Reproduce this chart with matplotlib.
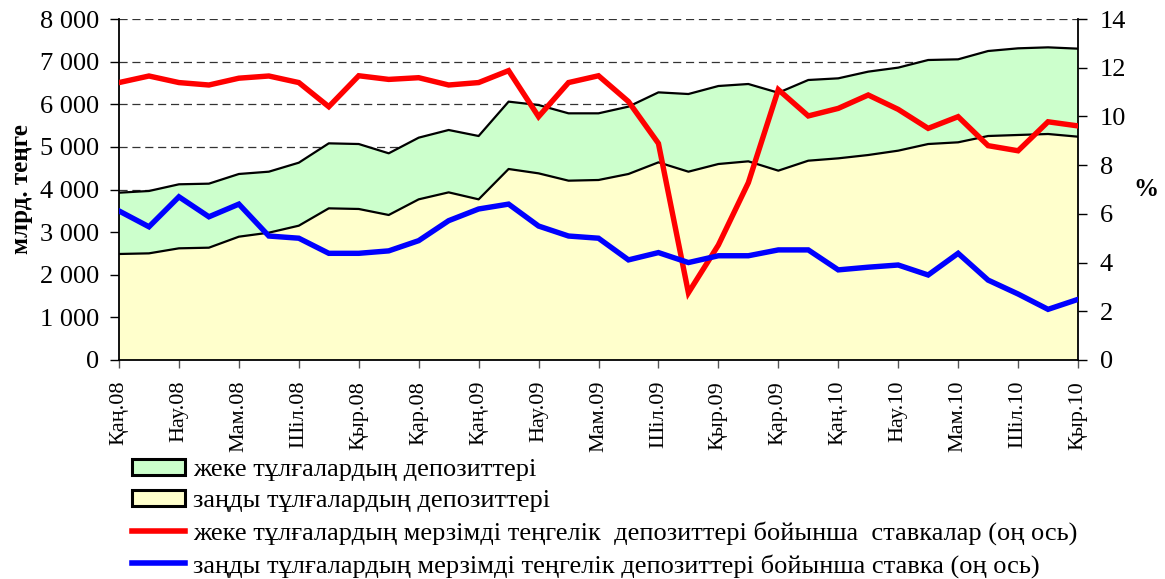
import matplotlib
matplotlib.use("Agg")
import matplotlib.pyplot as plt
from matplotlib.patches import Patch
from matplotlib.lines import Line2D
import numpy as np

plt.rcParams['font.family'] = ['Liberation Serif', 'DejaVu Serif']

month_labels = ['Қаң.08', 'Нау.08', 'Мам.08', 'Шіл.08', 'Қыр.08', 'Қар.08',
                'Қаң.09', 'Нау.09', 'Мам.09', 'Шіл.09', 'Қыр.09', 'Қар.09',
                'Қаң.10', 'Нау.10', 'Мам.10', 'Шіл.10', 'Қыр.10']

legal_deposits = [2487, 2502, 2620, 2635, 2893, 2987, 3151, 3558, 3543, 3402,
                  3769, 3933, 3769, 4481, 4379, 4207, 4223, 4364, 4637, 4418,
                  4598, 4661, 4442, 4676, 4731, 4809, 4911, 5067, 5107, 5255,
                  5279, 5302, 5239]
individual_deposits = [1438, 1463, 1502, 1502, 1471, 1431, 1478, 1525, 1524, 1447,
                       1447, 1463, 1486, 1580, 1603, 1580, 1564, 1580, 1642, 1822,
                       1830, 1814, 1828, 1893, 1877, 1956, 1948, 1971, 1947, 1994,
                       2033, 2033, 2065]
rate_individuals = [11.39, 11.66, 11.39, 11.29, 11.57, 11.66, 11.39, 10.40, 11.67, 11.52,
                    11.59, 11.29, 11.39, 11.88, 9.99, 11.39, 11.67, 10.61, 8.89, 2.76,
                    4.72, 7.28, 11.10, 10.02, 10.33, 10.88, 10.29, 9.51, 9.99, 8.80,
                    8.59, 9.78, 9.61]
rate_legal = [6.12, 5.47, 6.70, 5.88, 6.40, 5.09, 5.00, 4.38, 4.38, 4.48,
              4.90, 5.72, 6.20, 6.40, 5.50, 5.09, 5.00, 4.11, 4.41, 4.00,
              4.28, 4.28, 4.52, 4.52, 3.70, 3.81, 3.90, 3.49, 4.38, 3.28,
              2.71, 2.08, 2.49]

legend_labels = ['жеке тұлғалардың депозиттері',
                 'заңды тұлғалардың депозиттері',
                 'жеке тұлғалардың мерзімді теңгелік  депозиттері бойынша  ставкалар (оң ось)',
                 'заңды тұлғалардың мерзімді теңгелік депозиттері бойынша ставка (оң ось)']

x = np.arange(len(legal_deposits))
legal = np.array(legal_deposits)
total = legal + np.array(individual_deposits)

fig = plt.figure(figsize=(11.65, 5.79), dpi=100)
ax = fig.add_axes([119/1165, 1-360/579, (1078-119)/1165, (360-19)/579])

GREEN = '#CCFFCC'
YELLOW = '#FFFFCC'

ax.fill_between(x, 0, legal, facecolor=YELLOW, edgecolor='none', zorder=1)
ax.fill_between(x, legal, total, facecolor=GREEN, edgecolor='none', zorder=1)
ax.plot(x, legal, color='black', lw=1.6, zorder=2)
ax.plot(x, total, color='black', lw=1.6, zorder=2)

ax.set_xlim(0, len(x) - 1)
ax.set_ylim(0, 8000)
ax.set_yticks(np.arange(0, 8001, 1000))
ax.set_yticklabels([f'{v:,}'.replace(',', ' ') for v in range(0, 8001, 1000)])
ax.set_xticks(x[::2])
ax.set_xticklabels(month_labels, rotation=90, va='top', ha='center')
ax.set_axisbelow(True)
ax.yaxis.grid(True, linestyle=(0, (6.5, 3.8)), color='#333333', lw=0.9)
ax.spines['top'].set_visible(False)
ax.spines['right'].set_visible(False)
for s in ['left', 'bottom']:
    ax.spines[s].set_linewidth(1.3)
ax.tick_params(axis='y', direction='out', length=6.5, width=1.0, labelsize=19, pad=8)
ax.tick_params(axis='x', direction='out', length=6, width=1.0, labelsize=16, pad=9,
               color='#555555', labelcolor='black')
ax.set_ylabel('млрд. теңге', fontsize=18, fontweight='bold', labelpad=5)

ax2 = ax.twinx()
ax2.plot(x, rate_individuals, color='#FF0000', lw=3.9, solid_joinstyle='miter', zorder=3)
ax2.plot(x, rate_legal, color='#0000FF', lw=3.9, solid_joinstyle='miter', zorder=3)
ax2.set_ylim(0, 14)
ax2.set_yticks(np.arange(0, 15, 2))
ax2.spines['top'].set_visible(False)
ax2.spines['left'].set_visible(False)
ax2.spines['bottom'].set_visible(False)
ax2.spines['right'].set_linewidth(1.3)
ax2.tick_params(axis='y', direction='out', length=6.5, width=1.0, labelsize=19, pad=9)
ax2.set_ylabel('%', fontsize=18, fontweight='bold', rotation=0, labelpad=14, va='center')

handles = [Patch(facecolor=GREEN, edgecolor='black', lw=2.2),
           Patch(facecolor=YELLOW, edgecolor='black', lw=2.2),
           Line2D([], [], color='#FF0000', lw=4),
           Line2D([], [], color='#0000FF', lw=4)]
fig.legend(handles, legend_labels, loc='upper left', bbox_to_anchor=(132/1165, 1-459/579),
           frameon=False, fontsize=19, handlelength=2.0, handleheight=0.55,
           handletextpad=0.3, labelspacing=0.33, borderaxespad=0, borderpad=0)

fig.savefig('out.png', dpi=100)
